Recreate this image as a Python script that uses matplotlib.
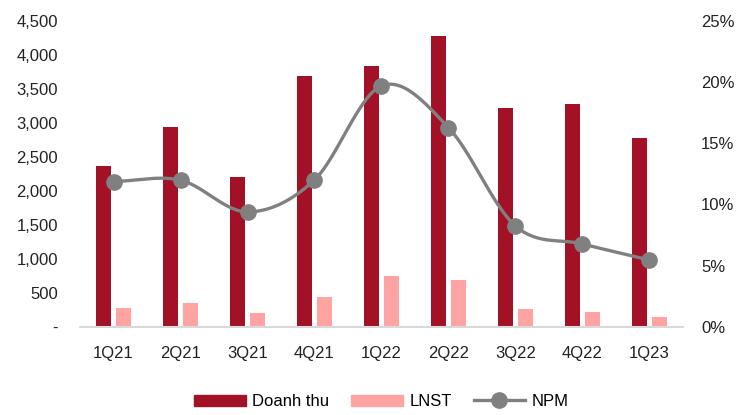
import numpy as np
import matplotlib
matplotlib.use("Agg")
import matplotlib.pyplot as plt
from matplotlib.ticker import FuncFormatter, MultipleLocator
from matplotlib.lines import Line2D
from matplotlib.patches import Patch
from matplotlib import font_manager

# Quarterly figures
quarters = ["1Q21", "2Q21", "3Q21", "4Q21", "1Q22", "2Q22", "3Q22", "4Q22", "1Q23"]
doanh_thu = [2363, 2937, 2201, 3687, 3834, 4275, 3212, 3279, 2771]
lnst = [275, 344, 201, 437, 745, 687, 260, 216, 147]
npm = [11.86, 11.97, 9.38, 12.0, 19.68, 16.27, 8.23, 6.76, 5.45]

names = {f.name for f in font_manager.fontManager.ttflist}
family = "Liberation Sans Narrow" if "Liberation Sans Narrow" in names else "Liberation Sans"
plt.rcParams["font.family"] = [family, "DejaVu Sans"]
plt.rcParams["font.size"] = 12

RED = "#A31127"
PINK = "#FFA3A3"
GREY = "#808080"

fig = plt.figure(figsize=(7.48, 4.15), dpi=100)
ax = fig.add_axes([0.107, 0.2128, 0.806, 0.7372])
ax2 = ax.twinx()

x = np.arange(len(quarters))
w = 0.224
off = 0.143
ax.bar(x - off, doanh_thu, width=w, color=RED, zorder=2)
ax.bar(x + off, lnst, width=w, color=PINK, zorder=2)


def catmull_rom(xs, ys, n=30):
    px = np.concatenate([[2 * xs[0] - xs[1]], xs, [2 * xs[-1] - xs[-2]]])
    py = np.concatenate([[2 * ys[0] - ys[1]], ys, [2 * ys[-1] - ys[-2]]])
    out_x, out_y = [], []
    for i in range(1, len(px) - 2):
        t = np.linspace(0, 1, n, endpoint=False)
        for arr, out in ((px, out_x), (py, out_y)):
            p0, p1, p2, p3 = arr[i - 1], arr[i], arr[i + 1], arr[i + 2]
            out.extend(0.5 * ((2 * p1) + (-p0 + p2) * t
                              + (2 * p0 - 5 * p1 + 4 * p2 - p3) * t ** 2
                              + (-p0 + 3 * p1 - 3 * p2 + p3) * t ** 3))
    out_x.append(xs[-1])
    out_y.append(ys[-1])
    return np.array(out_x), np.array(out_y)


sx, sy = catmull_rom(x.astype(float), np.array(npm, dtype=float))
ax2.plot(sx, sy, color=GREY, lw=2.4, zorder=3, solid_capstyle="round")
ax2.plot(x, npm, "o", color=GREY, ms=11, zorder=4)

ax.set_xlim(-0.5, len(quarters) - 0.5)
ax.set_ylim(0, 4500)
ax2.set_ylim(0, 25)
ax.yaxis.set_major_locator(MultipleLocator(500))
ax2.yaxis.set_major_locator(MultipleLocator(5))
ax.yaxis.set_major_formatter(FuncFormatter(lambda v, p: "-" if v == 0 else f"{v:,.0f}"))
ax2.yaxis.set_major_formatter(FuncFormatter(lambda v, p: f"{v:.0f}%"))

ax.set_xticks(x)
ax.set_xticklabels(quarters)

for a in (ax, ax2):
    for s in ("top", "left", "right", "bottom"):
        a.spines[s].set_visible(False)
ax.spines["bottom"].set_visible(True)
ax.spines["bottom"].set_color("#D9D9D9")
ax.spines["bottom"].set_linewidth(1.5)

ax.tick_params(axis="x", length=0, pad=14, labelsize=12, colors="#222222")
ax.tick_params(axis="y", length=0, pad=16, labelsize=12, colors="#222222")
ax2.tick_params(axis="y", length=0, pad=13, labelsize=12, colors="#222222")

handles = [
    Patch(color=RED, label="Doanh thu"),
    Patch(color=PINK, label="LNST"),
    Line2D([0], [0], color=GREY, lw=2.4, marker="o", ms=11, label="NPM"),
]
fig.legend(handles=handles, loc="center", bbox_to_anchor=(0.51, 0.032), ncol=3,
           frameon=False, handlelength=3.1, handleheight=0.7, handletextpad=0.4,
           columnspacing=1.3, fontsize=12)

fig.savefig("out.png", dpi=100)
